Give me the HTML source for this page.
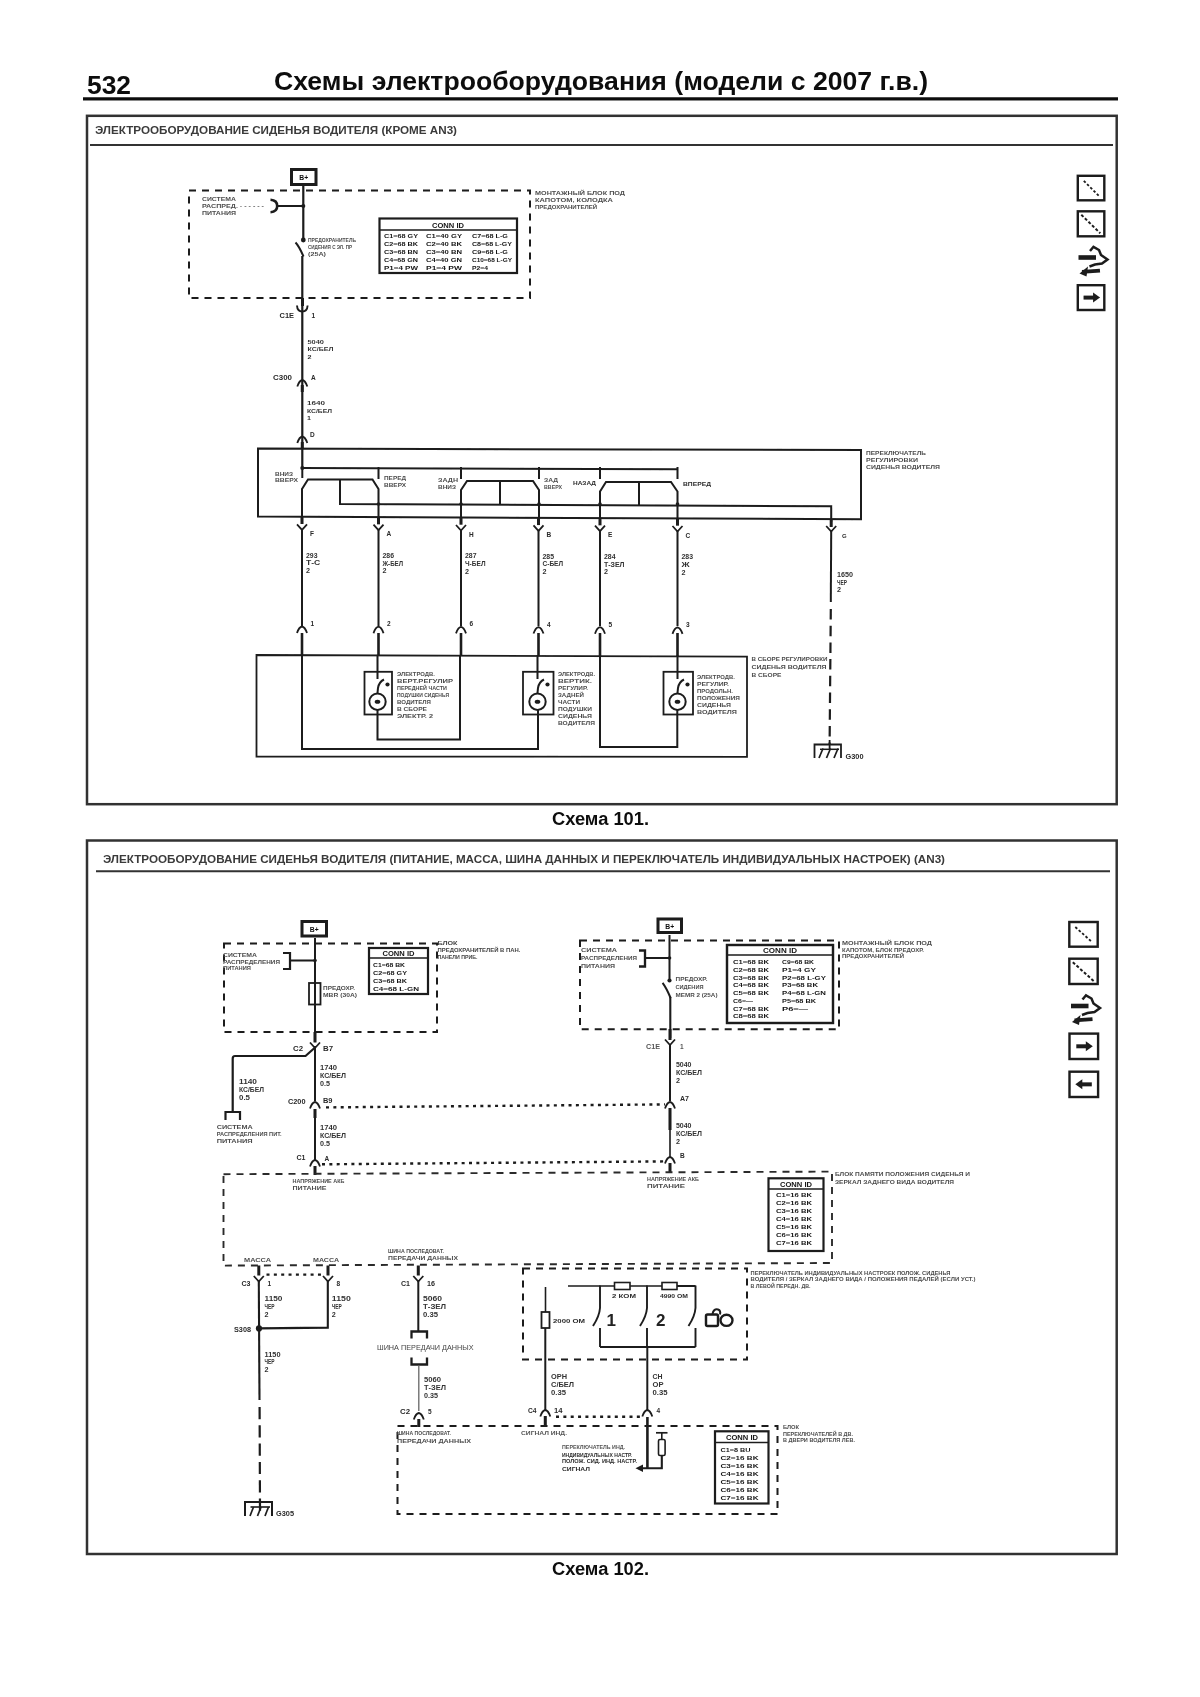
<!DOCTYPE html>
<html lang="ru"><head><meta charset="utf-8"><title>532</title>
<style>html,body{margin:0;padding:0;background:#fff}body{width:1200px;height:1697px;overflow:hidden;font-family:"Liberation Sans",sans-serif}svg{display:block;font-family:"Liberation Sans",sans-serif}</style>
</head><body>
<svg width="1200" height="1697" viewBox="0 0 1200 1697" stroke="#1c1c1c" stroke-linecap="butt" stroke-linejoin="miter">
<defs><filter id="soft" x="-2%" y="-2%" width="104%" height="104%"><feGaussianBlur stdDeviation="0.7"/></filter></defs>
<rect x="0" y="0" width="1200" height="1697" fill="#ffffff" stroke="none"/>
<g filter="url(#soft)">
<text x="87" y="93.5" font-size="25.8" font-weight="bold" text-anchor="start" fill="#111" stroke="none" textLength="44" lengthAdjust="spacingAndGlyphs" >532</text>
<text x="274" y="89.8" font-size="25" font-weight="bold" text-anchor="start" fill="#111" stroke="none" textLength="654" lengthAdjust="spacingAndGlyphs" >Схемы электрооборудования (модели с 2007 г.в.)</text>
<line x1="83" y1="98.8" x2="1118" y2="98.8" stroke-width="3.2" stroke="#111"/>
<rect x="87" y="115.8" width="1029.7" height="688.4000000000001" stroke-width="2.5" fill="none" stroke="#333"/>
<line x1="90" y1="145" x2="1113" y2="145" stroke-width="2" stroke="#333"/>
<text x="95" y="134.2" font-size="11" font-weight="bold" text-anchor="start" fill="#3a3a3a" stroke="none" textLength="362" lengthAdjust="spacingAndGlyphs" >ЭЛЕКТРООБОРУДОВАНИЕ СИДЕНЬЯ ВОДИТЕЛЯ (КРОМЕ AN3)</text>
<rect x="291.5" y="169.5" width="24.5" height="15.0" stroke-width="3" fill="none" />
<text x="303.8" y="180.2" font-size="6.8" font-weight="bold" text-anchor="middle" fill="#111" stroke="none" stroke="#111" stroke-width="0.3">B+</text>
<rect x="189" y="190.5" width="341" height="107.5" stroke-width="2" fill="none" stroke-dasharray="7 6"/>
<line x1="303.3" y1="186" x2="303.3" y2="240" stroke-width="2.2" />
<circle cx="303.3" cy="206" r="2" fill="#1c1c1c" stroke="none"/>
<circle cx="303.3" cy="240" r="2.4" fill="#1c1c1c" stroke="none"/>
<line x1="277" y1="206" x2="303" y2="206" stroke-width="2" />
<path d="M270.5,199.8 Q277.2,200.2 277.2,206 Q277.2,211.8 270.5,212.2" stroke-width="2.6" fill="none" />
<text x="202" y="201" font-size="6" font-weight="bold" text-anchor="start" fill="#4c4c4c" stroke="none" textLength="34" lengthAdjust="spacingAndGlyphs" >СИСТЕМА</text>
<text x="202" y="208" font-size="6" font-weight="bold" text-anchor="start" fill="#4c4c4c" stroke="none" textLength="62" lengthAdjust="spacingAndGlyphs" >РАСПРЕД. - - - - - -</text>
<text x="202" y="215" font-size="6" font-weight="bold" text-anchor="start" fill="#4c4c4c" stroke="none" textLength="34" lengthAdjust="spacingAndGlyphs" >ПИТАНИЯ</text>
<path d="M295.5,242.5 Q299,246 303.5,256.5" stroke-width="2" fill="none" />
<line x1="302.3" y1="256" x2="302.3" y2="468" stroke-width="2.2" />
<text x="308" y="242" font-size="6" font-weight="bold" text-anchor="start" fill="#4c4c4c" stroke="none" textLength="48" lengthAdjust="spacingAndGlyphs" >ПРЕДОХРАНИТЕЛЬ</text>
<text x="308" y="249" font-size="6" font-weight="bold" text-anchor="start" fill="#4c4c4c" stroke="none" textLength="44" lengthAdjust="spacingAndGlyphs" >СИДЕНИЯ С ЭЛ. ПР</text>
<text x="308" y="256" font-size="6" font-weight="bold" text-anchor="start" fill="#4c4c4c" stroke="none" textLength="18" lengthAdjust="spacingAndGlyphs" >(25A)</text>
<rect x="379.5" y="218.5" width="137.5" height="54.5" stroke-width="2.2" fill="none" />
<line x1="380" y1="230" x2="517" y2="230" stroke-width="1.6" />
<text x="448" y="228" font-size="6.5" font-weight="bold" text-anchor="middle" fill="#151515" stroke="none" textLength="32" lengthAdjust="spacingAndGlyphs" stroke="#151515" stroke-width="0.35">CONN ID</text>
<text x="384" y="238" font-size="6" font-weight="bold" text-anchor="start" fill="#151515" stroke="none" textLength="34" lengthAdjust="spacingAndGlyphs" stroke="#151515" stroke-width="0.35">C1=68 GY</text>
<text x="426" y="238" font-size="6" font-weight="bold" text-anchor="start" fill="#151515" stroke="none" textLength="36" lengthAdjust="spacingAndGlyphs" stroke="#151515" stroke-width="0.35">C1=40 GY</text>
<text x="472" y="238" font-size="6" font-weight="bold" text-anchor="start" fill="#151515" stroke="none" textLength="36" lengthAdjust="spacingAndGlyphs" stroke="#151515" stroke-width="0.35">C7=68 L-G</text>
<text x="384" y="246" font-size="6" font-weight="bold" text-anchor="start" fill="#151515" stroke="none" textLength="34" lengthAdjust="spacingAndGlyphs" stroke="#151515" stroke-width="0.35">C2=68 BK</text>
<text x="426" y="246" font-size="6" font-weight="bold" text-anchor="start" fill="#151515" stroke="none" textLength="36" lengthAdjust="spacingAndGlyphs" stroke="#151515" stroke-width="0.35">C2=40 BK</text>
<text x="472" y="246" font-size="6" font-weight="bold" text-anchor="start" fill="#151515" stroke="none" textLength="40" lengthAdjust="spacingAndGlyphs" stroke="#151515" stroke-width="0.35">C8=68 L-GY</text>
<text x="384" y="254" font-size="6" font-weight="bold" text-anchor="start" fill="#151515" stroke="none" textLength="34" lengthAdjust="spacingAndGlyphs" stroke="#151515" stroke-width="0.35">C3=68 BN</text>
<text x="426" y="254" font-size="6" font-weight="bold" text-anchor="start" fill="#151515" stroke="none" textLength="36" lengthAdjust="spacingAndGlyphs" stroke="#151515" stroke-width="0.35">C3=40 BN</text>
<text x="472" y="254" font-size="6" font-weight="bold" text-anchor="start" fill="#151515" stroke="none" textLength="36" lengthAdjust="spacingAndGlyphs" stroke="#151515" stroke-width="0.35">C9=68 L-G</text>
<text x="384" y="262" font-size="6" font-weight="bold" text-anchor="start" fill="#151515" stroke="none" textLength="34" lengthAdjust="spacingAndGlyphs" stroke="#151515" stroke-width="0.35">C4=68 GN</text>
<text x="426" y="262" font-size="6" font-weight="bold" text-anchor="start" fill="#151515" stroke="none" textLength="36" lengthAdjust="spacingAndGlyphs" stroke="#151515" stroke-width="0.35">C4=40 GN</text>
<text x="472" y="262" font-size="6" font-weight="bold" text-anchor="start" fill="#151515" stroke="none" textLength="40" lengthAdjust="spacingAndGlyphs" stroke="#151515" stroke-width="0.35">C10=68 L-GY</text>
<text x="384" y="270" font-size="6" font-weight="bold" text-anchor="start" fill="#151515" stroke="none" textLength="34" lengthAdjust="spacingAndGlyphs" stroke="#151515" stroke-width="0.35">P1=4 PW</text>
<text x="426" y="270" font-size="6" font-weight="bold" text-anchor="start" fill="#151515" stroke="none" textLength="36" lengthAdjust="spacingAndGlyphs" stroke="#151515" stroke-width="0.35">P1=4 PW</text>
<text x="472" y="270" font-size="6" font-weight="bold" text-anchor="start" fill="#151515" stroke="none" textLength="16" lengthAdjust="spacingAndGlyphs" stroke="#151515" stroke-width="0.35">P2=4</text>
<text x="535" y="195" font-size="6" font-weight="bold" text-anchor="start" fill="#4c4c4c" stroke="none" textLength="90" lengthAdjust="spacingAndGlyphs" >МОНТАЖНЫЙ БЛОК ПОД</text>
<text x="535" y="202" font-size="6" font-weight="bold" text-anchor="start" fill="#4c4c4c" stroke="none" textLength="78" lengthAdjust="spacingAndGlyphs" >КАПОТОМ, КОЛОДКА</text>
<text x="535" y="209" font-size="6" font-weight="bold" text-anchor="start" fill="#4c4c4c" stroke="none" textLength="62" lengthAdjust="spacingAndGlyphs" >ПРЕДОХРАНИТЕЛЕЙ</text>
<line x1="302.5" y1="298" x2="302.5" y2="306" stroke-width="3" />
<path d="M297,305.5 Q297.3,311.5 302.3,311.5 Q307.3,311.5 307.6,305.5" stroke-width="1.9" fill="none" />
<text x="279.5" y="317.5" font-size="6.5" font-weight="bold" text-anchor="start" fill="#2a2a2a" stroke="none" textLength="14.5" lengthAdjust="spacingAndGlyphs" >C1E</text>
<text x="311.5" y="317.5" font-size="6.5" font-weight="bold" text-anchor="start" fill="#2a2a2a" stroke="none" >1</text>
<text x="307.5" y="343.5" font-size="6" font-weight="bold" text-anchor="start" fill="#333" stroke="none" textLength="16.5" lengthAdjust="spacingAndGlyphs" >5040</text>
<text x="307.5" y="351.2" font-size="6" font-weight="bold" text-anchor="start" fill="#333" stroke="none" textLength="26" lengthAdjust="spacingAndGlyphs" >КС/БЕЛ</text>
<text x="307.5" y="358.9" font-size="6" font-weight="bold" text-anchor="start" fill="#333" stroke="none" textLength="4" lengthAdjust="spacingAndGlyphs" >2</text>
<path d="M297.3,386.5 Q299.3,380.5 302.3,380 Q305.3,380.5 307.3,386.5" stroke-width="1.8" fill="none" />
<line x1="302.3" y1="385" x2="302.3" y2="392" stroke-width="3" />
<text x="273" y="379.5" font-size="6.5" font-weight="bold" text-anchor="start" fill="#2a2a2a" stroke="none" textLength="19" lengthAdjust="spacingAndGlyphs" >C300</text>
<text x="311" y="379.5" font-size="6.5" font-weight="bold" text-anchor="start" fill="#2a2a2a" stroke="none" >A</text>
<text x="307" y="405.0" font-size="6" font-weight="bold" text-anchor="start" fill="#333" stroke="none" textLength="18" lengthAdjust="spacingAndGlyphs" >1640</text>
<text x="307" y="412.7" font-size="6" font-weight="bold" text-anchor="start" fill="#333" stroke="none" textLength="25" lengthAdjust="spacingAndGlyphs" >КС/БЕЛ</text>
<text x="307" y="420.4" font-size="6" font-weight="bold" text-anchor="start" fill="#333" stroke="none" textLength="4" lengthAdjust="spacingAndGlyphs" >1</text>
<text x="310" y="437" font-size="6.5" font-weight="bold" text-anchor="start" fill="#2a2a2a" stroke="none" >D</text>
<path d="M297.3,443.0 Q299.3,437.0 302.3,436.5 Q305.3,437.0 307.3,443.0" stroke-width="1.8" fill="none" />
<line x1="302.3" y1="442" x2="302.3" y2="449" stroke-width="3" />
<polygon points="258,448.6 861,450 861,519.2 258,516.6" fill="none" stroke-width="2"/>
<line x1="302" y1="468" x2="678" y2="469.3" stroke-width="2" />
<circle cx="302.3" cy="468" r="2" fill="#1c1c1c" stroke="none"/>
<line x1="302.3" y1="467" x2="302.3" y2="478" stroke-width="2" />
<line x1="378.5" y1="467" x2="378.5" y2="479" stroke-width="2" />
<line x1="461" y1="467" x2="461" y2="479" stroke-width="2" />
<line x1="539" y1="467" x2="539" y2="479" stroke-width="2" />
<line x1="600" y1="467" x2="600" y2="479" stroke-width="2" />
<line x1="677.5" y1="467" x2="677.5" y2="479" stroke-width="2" />
<polyline points="302,517 302,489 308,479.5 372.5,479.5 378.5,489 378.5,517" stroke-width="2" fill="none" />
<polyline points="340,479.5 340,504 831.2,506.3 831.2,522" stroke-width="2" fill="none" />
<polyline points="461,517 461,490 467,481 533,481 539,490 539,517" stroke-width="2" fill="none" />
<line x1="500" y1="481" x2="500" y2="504" stroke-width="2" />
<polyline points="600,518 600,491.5 606,482 671,482 677.5,491.5 677.5,518.5" stroke-width="2" fill="none" />
<line x1="639" y1="482" x2="639" y2="505.5" stroke-width="2" />
<circle cx="378.5" cy="504" r="1.8" fill="#1c1c1c" stroke="none"/>
<circle cx="461" cy="504" r="1.8" fill="#1c1c1c" stroke="none"/>
<circle cx="539" cy="504" r="1.8" fill="#1c1c1c" stroke="none"/>
<circle cx="600" cy="504" r="1.8" fill="#1c1c1c" stroke="none"/>
<circle cx="677.5" cy="504" r="1.8" fill="#1c1c1c" stroke="none"/>
<text x="275" y="475.5" font-size="6" font-weight="bold" text-anchor="start" fill="#4c4c4c" stroke="none" textLength="18" lengthAdjust="spacingAndGlyphs" >ВНИЗ</text>
<text x="275" y="481.7" font-size="6" font-weight="bold" text-anchor="start" fill="#4c4c4c" stroke="none" textLength="23" lengthAdjust="spacingAndGlyphs" >ВВЕРХ</text>
<text x="384" y="480.0" font-size="6" font-weight="bold" text-anchor="start" fill="#4c4c4c" stroke="none" textLength="22" lengthAdjust="spacingAndGlyphs" >ПЕРЕД</text>
<text x="384" y="486.5" font-size="6" font-weight="bold" text-anchor="start" fill="#4c4c4c" stroke="none" textLength="22" lengthAdjust="spacingAndGlyphs" >ВВЕРХ</text>
<text x="438" y="482.0" font-size="6" font-weight="bold" text-anchor="start" fill="#4c4c4c" stroke="none" textLength="20" lengthAdjust="spacingAndGlyphs" >ЗАДН</text>
<text x="438" y="488.5" font-size="6" font-weight="bold" text-anchor="start" fill="#4c4c4c" stroke="none" textLength="18" lengthAdjust="spacingAndGlyphs" >ВНИЗ</text>
<text x="544" y="482.0" font-size="6" font-weight="bold" text-anchor="start" fill="#4c4c4c" stroke="none" textLength="14" lengthAdjust="spacingAndGlyphs" >ЗАД</text>
<text x="544" y="488.5" font-size="6" font-weight="bold" text-anchor="start" fill="#4c4c4c" stroke="none" textLength="18" lengthAdjust="spacingAndGlyphs" >ВВЕРХ</text>
<text x="573" y="485" font-size="6" font-weight="bold" text-anchor="start" fill="#2a2a2a" stroke="none" textLength="23" lengthAdjust="spacingAndGlyphs" >НАЗАД</text>
<text x="683" y="486" font-size="6" font-weight="bold" text-anchor="start" fill="#2a2a2a" stroke="none" textLength="28" lengthAdjust="spacingAndGlyphs" >ВПЕРЕД</text>
<text x="866" y="455" font-size="6" font-weight="bold" text-anchor="start" fill="#4c4c4c" stroke="none" textLength="60" lengthAdjust="spacingAndGlyphs" >ПЕРЕКЛЮЧАТЕЛЬ</text>
<text x="866" y="462" font-size="6" font-weight="bold" text-anchor="start" fill="#4c4c4c" stroke="none" textLength="52" lengthAdjust="spacingAndGlyphs" >РЕГУЛИРОВКИ</text>
<text x="866" y="469" font-size="6" font-weight="bold" text-anchor="start" fill="#4c4c4c" stroke="none" textLength="74" lengthAdjust="spacingAndGlyphs" >СИДЕНЬЯ ВОДИТЕЛЯ</text>
<line x1="302" y1="517.0" x2="302" y2="524.0" stroke-width="3" />
<polyline points="297,524.3 302,529.8 307,524.3" stroke-width="1.8" fill="none" />
<line x1="302" y1="529.0" x2="302" y2="626" stroke-width="2" />
<text x="310" y="536.0" font-size="6.5" font-weight="bold" text-anchor="start" fill="#2a2a2a" stroke="none" >F</text>
<text x="306" y="557.5" font-size="6.3" font-weight="bold" text-anchor="start" fill="#333" stroke="none" textLength="11.5" lengthAdjust="spacingAndGlyphs" >293</text>
<text x="306" y="565.2" font-size="6.3" font-weight="bold" text-anchor="start" fill="#333" stroke="none" textLength="14.3" lengthAdjust="spacingAndGlyphs" >Т-С</text>
<text x="306" y="572.9" font-size="6.3" font-weight="bold" text-anchor="start" fill="#333" stroke="none" textLength="4" lengthAdjust="spacingAndGlyphs" >2</text>
<path d="M297,633.0 Q299,627.0 302,626.5 Q305,627.0 307,633.0" stroke-width="1.8" fill="none" />
<line x1="302" y1="633" x2="302" y2="656" stroke-width="2.6" />
<text x="310.5" y="626.0" font-size="6.5" font-weight="bold" text-anchor="start" fill="#2a2a2a" stroke="none" >1</text>
<line x1="378.5" y1="517.34425" x2="378.5" y2="524.34425" stroke-width="3" />
<polyline points="373.5,524.6442499999999 378.5,530.1442499999999 383.5,524.6442499999999" stroke-width="1.8" fill="none" />
<line x1="378.5" y1="529.34425" x2="378.5" y2="626" stroke-width="2" />
<text x="386.5" y="536.34425" font-size="6.5" font-weight="bold" text-anchor="start" fill="#2a2a2a" stroke="none" >A</text>
<text x="382.5" y="557.84425" font-size="6.3" font-weight="bold" text-anchor="start" fill="#333" stroke="none" textLength="11.5" lengthAdjust="spacingAndGlyphs" >286</text>
<text x="382.5" y="565.54425" font-size="6.3" font-weight="bold" text-anchor="start" fill="#333" stroke="none" textLength="20.5" lengthAdjust="spacingAndGlyphs" >Ж-БЕЛ</text>
<text x="382.5" y="573.24425" font-size="6.3" font-weight="bold" text-anchor="start" fill="#333" stroke="none" textLength="4" lengthAdjust="spacingAndGlyphs" >2</text>
<path d="M373.5,633.172125 Q375.5,627.172125 378.5,626.672125 Q381.5,627.172125 383.5,633.172125" stroke-width="1.8" fill="none" />
<line x1="378.5" y1="633" x2="378.5" y2="656" stroke-width="2.6" />
<text x="387.0" y="626.172125" font-size="6.5" font-weight="bold" text-anchor="start" fill="#2a2a2a" stroke="none" >2</text>
<line x1="461" y1="517.7155" x2="461" y2="524.7155" stroke-width="3" />
<polyline points="456,525.0155 461,530.5155 466,525.0155" stroke-width="1.8" fill="none" />
<line x1="461" y1="529.7155" x2="461" y2="626" stroke-width="2" />
<text x="469" y="536.7155" font-size="6.5" font-weight="bold" text-anchor="start" fill="#2a2a2a" stroke="none" >H</text>
<text x="465" y="558.2155" font-size="6.3" font-weight="bold" text-anchor="start" fill="#333" stroke="none" textLength="11.5" lengthAdjust="spacingAndGlyphs" >287</text>
<text x="465" y="565.9155000000001" font-size="6.3" font-weight="bold" text-anchor="start" fill="#333" stroke="none" textLength="20.5" lengthAdjust="spacingAndGlyphs" >Ч-БЕЛ</text>
<text x="465" y="573.6155" font-size="6.3" font-weight="bold" text-anchor="start" fill="#333" stroke="none" textLength="4" lengthAdjust="spacingAndGlyphs" >2</text>
<path d="M456,633.35775 Q458,627.35775 461,626.85775 Q464,627.35775 466,633.35775" stroke-width="1.8" fill="none" />
<line x1="461" y1="633" x2="461" y2="656" stroke-width="2.6" />
<text x="469.5" y="626.35775" font-size="6.5" font-weight="bold" text-anchor="start" fill="#2a2a2a" stroke="none" >6</text>
<line x1="538.5" y1="518.06425" x2="538.5" y2="525.06425" stroke-width="3" />
<polyline points="533.5,525.36425 538.5,530.86425 543.5,525.36425" stroke-width="1.8" fill="none" />
<line x1="538.5" y1="530.06425" x2="538.5" y2="626" stroke-width="2" />
<text x="546.5" y="537.06425" font-size="6.5" font-weight="bold" text-anchor="start" fill="#2a2a2a" stroke="none" >B</text>
<text x="542.5" y="558.56425" font-size="6.3" font-weight="bold" text-anchor="start" fill="#333" stroke="none" textLength="11.5" lengthAdjust="spacingAndGlyphs" >285</text>
<text x="542.5" y="566.2642500000001" font-size="6.3" font-weight="bold" text-anchor="start" fill="#333" stroke="none" textLength="20.5" lengthAdjust="spacingAndGlyphs" >С-БЕЛ</text>
<text x="542.5" y="573.96425" font-size="6.3" font-weight="bold" text-anchor="start" fill="#333" stroke="none" textLength="4" lengthAdjust="spacingAndGlyphs" >2</text>
<path d="M533.5,633.532125 Q535.5,627.532125 538.5,627.032125 Q541.5,627.532125 543.5,633.532125" stroke-width="1.8" fill="none" />
<line x1="538.5" y1="633" x2="538.5" y2="656" stroke-width="2.6" />
<text x="547.0" y="626.532125" font-size="6.5" font-weight="bold" text-anchor="start" fill="#2a2a2a" stroke="none" >4</text>
<line x1="600" y1="518.341" x2="600" y2="525.341" stroke-width="3" />
<polyline points="595,525.641 600,531.141 605,525.641" stroke-width="1.8" fill="none" />
<line x1="600" y1="530.341" x2="600" y2="626" stroke-width="2" />
<text x="608" y="537.341" font-size="6.5" font-weight="bold" text-anchor="start" fill="#2a2a2a" stroke="none" >E</text>
<text x="604" y="558.841" font-size="6.3" font-weight="bold" text-anchor="start" fill="#333" stroke="none" textLength="11.5" lengthAdjust="spacingAndGlyphs" >284</text>
<text x="604" y="566.541" font-size="6.3" font-weight="bold" text-anchor="start" fill="#333" stroke="none" textLength="20.5" lengthAdjust="spacingAndGlyphs" >Т-ЗЕЛ</text>
<text x="604" y="574.241" font-size="6.3" font-weight="bold" text-anchor="start" fill="#333" stroke="none" textLength="4" lengthAdjust="spacingAndGlyphs" >2</text>
<path d="M595,633.6705 Q597,627.6705 600,627.1705 Q603,627.6705 605,633.6705" stroke-width="1.8" fill="none" />
<line x1="600" y1="633" x2="600" y2="656" stroke-width="2.6" />
<text x="608.5" y="626.6705" font-size="6.5" font-weight="bold" text-anchor="start" fill="#2a2a2a" stroke="none" >5</text>
<line x1="677.5" y1="518.68975" x2="677.5" y2="525.68975" stroke-width="3" />
<polyline points="672.5,525.98975 677.5,531.48975 682.5,525.98975" stroke-width="1.8" fill="none" />
<line x1="677.5" y1="530.68975" x2="677.5" y2="626" stroke-width="2" />
<text x="685.5" y="537.68975" font-size="6.5" font-weight="bold" text-anchor="start" fill="#2a2a2a" stroke="none" >C</text>
<text x="681.5" y="559.18975" font-size="6.3" font-weight="bold" text-anchor="start" fill="#333" stroke="none" textLength="11.5" lengthAdjust="spacingAndGlyphs" >283</text>
<text x="681.5" y="566.88975" font-size="6.3" font-weight="bold" text-anchor="start" fill="#333" stroke="none" textLength="8.1" lengthAdjust="spacingAndGlyphs" >Ж</text>
<text x="681.5" y="574.58975" font-size="6.3" font-weight="bold" text-anchor="start" fill="#333" stroke="none" textLength="4" lengthAdjust="spacingAndGlyphs" >2</text>
<path d="M672.5,633.844875 Q674.5,627.844875 677.5,627.344875 Q680.5,627.844875 682.5,633.844875" stroke-width="1.8" fill="none" />
<line x1="677.5" y1="633" x2="677.5" y2="656" stroke-width="2.6" />
<text x="686.0" y="626.844875" font-size="6.5" font-weight="bold" text-anchor="start" fill="#2a2a2a" stroke="none" >3</text>
<line x1="831.2" y1="520" x2="831.2" y2="527" stroke-width="3" />
<polyline points="826.2,526 831.2,531.5 836.2,526" stroke-width="1.8" fill="none" />
<line x1="831.2" y1="531" x2="830.8" y2="602" stroke-width="2" />
<line x1="830.8" y1="609" x2="829.6" y2="744" stroke-width="2.2" stroke-dasharray="10.5 6.2"/>
<text x="842" y="538" font-size="6" font-weight="bold" text-anchor="start" fill="#2a2a2a" stroke="none" >G</text>
<text x="837" y="577.0" font-size="6.3" font-weight="bold" text-anchor="start" fill="#333" stroke="none" textLength="16" lengthAdjust="spacingAndGlyphs" >1650</text>
<text x="837" y="584.7" font-size="6.3" font-weight="bold" text-anchor="start" fill="#333" stroke="none" textLength="10" lengthAdjust="spacingAndGlyphs" >ЧЕР</text>
<text x="837" y="592.4" font-size="6.3" font-weight="bold" text-anchor="start" fill="#333" stroke="none" textLength="4" lengthAdjust="spacingAndGlyphs" >2</text>
<polyline points="814.5,758 814.5,744.5 841,744.5 841,758" stroke-width="1.8" fill="none" />
<line x1="829.6" y1="740" x2="829.6" y2="750" stroke-width="1.8" />
<line x1="820" y1="749.3" x2="839" y2="749.3" stroke-width="1.5" />
<line x1="823" y1="748.5" x2="819" y2="758" stroke-width="1.7" />
<line x1="830.5" y1="748.5" x2="826.5" y2="758" stroke-width="1.7" />
<line x1="838" y1="748.5" x2="834" y2="758" stroke-width="1.7" />
<text x="845.5" y="758.5" font-size="6.5" font-weight="bold" text-anchor="start" fill="#2a2a2a" stroke="none" textLength="18" lengthAdjust="spacingAndGlyphs" >G300</text>
<polygon points="256.5,655 747,656.6 747,756.8 256.5,756.5" fill="none" stroke-width="1.8"/>
<text x="751.5" y="661" font-size="6" font-weight="bold" text-anchor="start" fill="#4c4c4c" stroke="none" textLength="76" lengthAdjust="spacingAndGlyphs" >В СБОРЕ РЕГУЛИРОВКИ</text>
<text x="751.5" y="669" font-size="6" font-weight="bold" text-anchor="start" fill="#4c4c4c" stroke="none" textLength="75" lengthAdjust="spacingAndGlyphs" >СИДЕНЬЯ ВОДИТЕЛЯ</text>
<text x="751.5" y="677" font-size="6" font-weight="bold" text-anchor="start" fill="#4c4c4c" stroke="none" textLength="30" lengthAdjust="spacingAndGlyphs" >В СБОРЕ</text>
<rect x="364.5" y="671.8" width="27.5" height="42.700000000000045" stroke-width="1.8" fill="none" />
<line x1="377.5" y1="655" x2="377.5" y2="679" stroke-width="2" />
<path d="M377.5,693 L378.0,688 Q379.0,682 384.0,679.5" stroke-width="2" fill="none" />
<circle cx="387.5" cy="684.5" r="2.1" fill="#1c1c1c" stroke="none"/>
<circle cx="377.5" cy="701.7" r="8.2" fill="none" stroke-width="2"/>
<ellipse cx="377.5" cy="701.7" rx="2.8" ry="2" fill="#1c1c1c" stroke="none"/>
<rect x="523" y="671.8" width="30.5" height="42.700000000000045" stroke-width="1.8" fill="none" />
<line x1="537.5" y1="655" x2="537.5" y2="679" stroke-width="2" />
<path d="M537.5,693 L538.0,688 Q539.0,682 544.0,679.5" stroke-width="2" fill="none" />
<circle cx="547.5" cy="684.5" r="2.1" fill="#1c1c1c" stroke="none"/>
<circle cx="537.5" cy="701.7" r="8.2" fill="none" stroke-width="2"/>
<ellipse cx="537.5" cy="701.7" rx="2.8" ry="2" fill="#1c1c1c" stroke="none"/>
<rect x="663.5" y="671.8" width="29.5" height="42.700000000000045" stroke-width="1.8" fill="none" />
<line x1="677.5" y1="655" x2="677.5" y2="679" stroke-width="2" />
<path d="M677.5,693 L678.0,688 Q679.0,682 684.0,679.5" stroke-width="2" fill="none" />
<circle cx="687.5" cy="684.5" r="2.1" fill="#1c1c1c" stroke="none"/>
<circle cx="677.5" cy="701.7" r="8.2" fill="none" stroke-width="2"/>
<ellipse cx="677.5" cy="701.7" rx="2.8" ry="2" fill="#1c1c1c" stroke="none"/>
<polyline points="377.5,710 377.5,739.5 460,739.5 460,655" stroke-width="2" fill="none" />
<polyline points="302,655 302,749 538,749 538,710" stroke-width="2" fill="none" />
<polyline points="600,655 600,747 677.3,747 677.3,710" stroke-width="2" fill="none" />
<text x="397" y="676" font-size="6" font-weight="bold" text-anchor="start" fill="#4c4c4c" stroke="none" textLength="38" lengthAdjust="spacingAndGlyphs" >ЭЛЕКТРОДВ.</text>
<text x="397" y="683" font-size="6" font-weight="bold" text-anchor="start" fill="#4c4c4c" stroke="none" textLength="56" lengthAdjust="spacingAndGlyphs" >ВЕРТ.РЕГУЛИР</text>
<text x="397" y="690" font-size="6" font-weight="bold" text-anchor="start" fill="#4c4c4c" stroke="none" textLength="50" lengthAdjust="spacingAndGlyphs" >ПЕРЕДНЕЙ ЧАСТИ</text>
<text x="397" y="697" font-size="6" font-weight="bold" text-anchor="start" fill="#4c4c4c" stroke="none" textLength="52" lengthAdjust="spacingAndGlyphs" >ПОДУШКИ СИДЕНЬЯ</text>
<text x="397" y="704" font-size="6" font-weight="bold" text-anchor="start" fill="#4c4c4c" stroke="none" textLength="34" lengthAdjust="spacingAndGlyphs" >ВОДИТЕЛЯ</text>
<text x="397" y="711" font-size="6" font-weight="bold" text-anchor="start" fill="#4c4c4c" stroke="none" textLength="30" lengthAdjust="spacingAndGlyphs" >В СБОРЕ</text>
<text x="397" y="718" font-size="6" font-weight="bold" text-anchor="start" fill="#4c4c4c" stroke="none" textLength="36" lengthAdjust="spacingAndGlyphs" >ЭЛЕКТР. 2</text>
<text x="558" y="676" font-size="6" font-weight="bold" text-anchor="start" fill="#4c4c4c" stroke="none" textLength="37" lengthAdjust="spacingAndGlyphs" >ЭЛЕКТРОДВ.</text>
<text x="558" y="683" font-size="6" font-weight="bold" text-anchor="start" fill="#4c4c4c" stroke="none" textLength="34" lengthAdjust="spacingAndGlyphs" >ВЕРТИК.</text>
<text x="558" y="690" font-size="6" font-weight="bold" text-anchor="start" fill="#4c4c4c" stroke="none" textLength="30" lengthAdjust="spacingAndGlyphs" >РЕГУЛИР.</text>
<text x="558" y="697" font-size="6" font-weight="bold" text-anchor="start" fill="#4c4c4c" stroke="none" textLength="26" lengthAdjust="spacingAndGlyphs" >ЗАДНЕЙ</text>
<text x="558" y="704" font-size="6" font-weight="bold" text-anchor="start" fill="#4c4c4c" stroke="none" textLength="22" lengthAdjust="spacingAndGlyphs" >ЧАСТИ</text>
<text x="558" y="711" font-size="6" font-weight="bold" text-anchor="start" fill="#4c4c4c" stroke="none" textLength="34" lengthAdjust="spacingAndGlyphs" >ПОДУШКИ</text>
<text x="558" y="718" font-size="6" font-weight="bold" text-anchor="start" fill="#4c4c4c" stroke="none" textLength="34" lengthAdjust="spacingAndGlyphs" >СИДЕНЬЯ</text>
<text x="558" y="725" font-size="6" font-weight="bold" text-anchor="start" fill="#4c4c4c" stroke="none" textLength="37" lengthAdjust="spacingAndGlyphs" >ВОДИТЕЛЯ</text>
<text x="697" y="679.0" font-size="6" font-weight="bold" text-anchor="start" fill="#4c4c4c" stroke="none" textLength="38" lengthAdjust="spacingAndGlyphs" >ЭЛЕКТРОДВ.</text>
<text x="697" y="685.9" font-size="6" font-weight="bold" text-anchor="start" fill="#4c4c4c" stroke="none" textLength="32" lengthAdjust="spacingAndGlyphs" >РЕГУЛИР.</text>
<text x="697" y="692.8" font-size="6" font-weight="bold" text-anchor="start" fill="#4c4c4c" stroke="none" textLength="36" lengthAdjust="spacingAndGlyphs" >ПРОДОЛЬН.</text>
<text x="697" y="699.7" font-size="6" font-weight="bold" text-anchor="start" fill="#4c4c4c" stroke="none" textLength="43" lengthAdjust="spacingAndGlyphs" >ПОЛОЖЕНИЯ</text>
<text x="697" y="706.6" font-size="6" font-weight="bold" text-anchor="start" fill="#4c4c4c" stroke="none" textLength="34" lengthAdjust="spacingAndGlyphs" >СИДЕНЬЯ</text>
<text x="697" y="713.5" font-size="6" font-weight="bold" text-anchor="start" fill="#4c4c4c" stroke="none" textLength="40" lengthAdjust="spacingAndGlyphs" >ВОДИТЕЛЯ</text>
<rect x="1077.8" y="175.8" width="26.5" height="24.5" stroke-width="2.4" fill="none" />
<line x1="1083.8" y1="180.8" x2="1098.8" y2="195.8" stroke-width="1.8" stroke-dasharray="2.6 2"/>
<rect x="1077.8" y="211.3" width="26.5" height="25.0" stroke-width="2.4" fill="none" />
<line x1="1081.3" y1="214.8" x2="1100.3" y2="233.3" stroke-width="2" stroke-dasharray="3 2"/>
<path d="M1090,251 L1093.5,246.8 L1099,250 L1101,255 L1107.5,259.5 L1102,263.5 L1095,264.5 L1089.5,266.5" stroke-width="2.5" fill="none" />
<line x1="1078.5" y1="257.5" x2="1096" y2="257.5" stroke-width="4.6" />
<line x1="1082" y1="271.8" x2="1100" y2="270.6" stroke-width="3.8" />
<path d="M1079.5,273.5 L1088,266.5 L1086.5,276.5 Z" fill="#1c1c1c" stroke="none"/>
<rect x="1077.8" y="285.2" width="26.5" height="24.80000000000001" stroke-width="2.4" fill="none" />
<line x1="1083.55" y1="297.59999999999997" x2="1095.05" y2="297.59999999999997" stroke-width="4" />
<path d="M1093.05,292.59999999999997 L1100.05,297.59999999999997 L1093.05,302.59999999999997 Z" fill="#1c1c1c" stroke="none"/>
<text x="552" y="824.8" font-size="18" font-weight="bold" text-anchor="start" fill="#111" stroke="none" textLength="97" lengthAdjust="spacingAndGlyphs" stroke="#111" stroke-width="0.3">Схема 101.</text>
<rect x="87" y="840.5" width="1029.7" height="713.5" stroke-width="2.5" fill="none" stroke="#333"/>
<line x1="96" y1="871.2" x2="1110" y2="871.2" stroke-width="2" stroke="#333"/>
<text x="103" y="863" font-size="11" font-weight="bold" text-anchor="start" fill="#3a3a3a" stroke="none" textLength="842" lengthAdjust="spacingAndGlyphs" >ЭЛЕКТРООБОРУДОВАНИЕ СИДЕНЬЯ ВОДИТЕЛЯ (ПИТАНИЕ, МАССА, ШИНА ДАННЫХ И ПЕРЕКЛЮЧАТЕЛЬ ИНДИВИДУАЛЬНЫХ НАСТРОЕК) (AN3)</text>
<rect x="302" y="921.5" width="24.5" height="14.5" stroke-width="3" fill="none" />
<text x="314.3" y="932" font-size="6.8" font-weight="bold" text-anchor="middle" fill="#111" stroke="none" stroke="#111" stroke-width="0.3">B+</text>
<rect x="224" y="943.5" width="213" height="88.5" stroke-width="2" fill="none" stroke-dasharray="7 6"/>
<line x1="315" y1="938" x2="315" y2="983" stroke-width="2" />
<circle cx="315" cy="960.5" r="1.8" fill="#1c1c1c" stroke="none"/>
<line x1="290" y1="960.5" x2="315" y2="960.5" stroke-width="2" />
<path d="M283,953 L290,953 L290,969 L283,969" stroke-width="2.2" fill="none" />
<text x="223" y="957.0" font-size="6" font-weight="bold" text-anchor="start" fill="#4c4c4c" stroke="none" textLength="34" lengthAdjust="spacingAndGlyphs" >СИСТЕМА</text>
<text x="223" y="963.5" font-size="6" font-weight="bold" text-anchor="start" fill="#4c4c4c" stroke="none" textLength="57" lengthAdjust="spacingAndGlyphs" >РАСПРЕДЕЛЕНИЯ</text>
<text x="223" y="970.0" font-size="6" font-weight="bold" text-anchor="start" fill="#4c4c4c" stroke="none" textLength="28" lengthAdjust="spacingAndGlyphs" >ПИТАНИЯ</text>
<rect x="309" y="983" width="11.5" height="21.5" stroke-width="1.8" fill="none" />
<line x1="315" y1="983" x2="315" y2="1040" stroke-width="2" />
<text x="323" y="990.0" font-size="6" font-weight="bold" text-anchor="start" fill="#4c4c4c" stroke="none" textLength="32" lengthAdjust="spacingAndGlyphs" >ПРЕДОХР.</text>
<text x="323" y="996.5" font-size="6" font-weight="bold" text-anchor="start" fill="#4c4c4c" stroke="none" textLength="34" lengthAdjust="spacingAndGlyphs" >MBR (30A)</text>
<rect x="369" y="948" width="59" height="46" stroke-width="2.2" fill="none" />
<line x1="369" y1="958" x2="428" y2="958" stroke-width="1.6" />
<text x="398.5" y="956" font-size="6.5" font-weight="bold" text-anchor="middle" fill="#151515" stroke="none" textLength="32" lengthAdjust="spacingAndGlyphs" stroke="#151515" stroke-width="0.35">CONN ID</text>
<text x="373" y="967" font-size="6" font-weight="bold" text-anchor="start" fill="#151515" stroke="none" textLength="32" lengthAdjust="spacingAndGlyphs" stroke="#151515" stroke-width="0.35">C1=68 BK</text>
<text x="373" y="975" font-size="6" font-weight="bold" text-anchor="start" fill="#151515" stroke="none" textLength="34" lengthAdjust="spacingAndGlyphs" stroke="#151515" stroke-width="0.35">C2=68 GY</text>
<text x="373" y="983" font-size="6" font-weight="bold" text-anchor="start" fill="#151515" stroke="none" textLength="34" lengthAdjust="spacingAndGlyphs" stroke="#151515" stroke-width="0.35">C3=68 BK</text>
<text x="373" y="991" font-size="6" font-weight="bold" text-anchor="start" fill="#151515" stroke="none" textLength="46" lengthAdjust="spacingAndGlyphs" stroke="#151515" stroke-width="0.35">C4=68 L-GN</text>
<text x="437.5" y="945.3" font-size="6" font-weight="bold" text-anchor="start" fill="#444" stroke="none" textLength="20" lengthAdjust="spacingAndGlyphs" >БЛОК</text>
<text x="437.5" y="952.3" font-size="6" font-weight="bold" text-anchor="start" fill="#444" stroke="none" textLength="83" lengthAdjust="spacingAndGlyphs" >ПРЕДОХРАНИТЕЛЕЙ В ПАН.</text>
<text x="437.5" y="959.3" font-size="6" font-weight="bold" text-anchor="start" fill="#444" stroke="none" textLength="40" lengthAdjust="spacingAndGlyphs" >ПАНЕЛИ ПРИБ.</text>
<line x1="315" y1="1032" x2="315" y2="1042.5" stroke-width="3" />
<polyline points="310,1042.5 315,1048.0 320,1042.5" stroke-width="1.8" fill="none" />
<line x1="315" y1="1046" x2="315" y2="1101" stroke-width="2" />
<text x="293" y="1051" font-size="6.5" font-weight="bold" text-anchor="start" fill="#2a2a2a" stroke="none" textLength="10" lengthAdjust="spacingAndGlyphs" >C2</text>
<text x="323" y="1051" font-size="6.5" font-weight="bold" text-anchor="start" fill="#2a2a2a" stroke="none" textLength="10" lengthAdjust="spacingAndGlyphs" >B7</text>
<path d="M314.5,1048 L305.5,1056 L235,1056 Q232.7,1056 232.7,1058.5 L232.7,1112" stroke-width="2.2" fill="none" />
<path d="M225.5,1120 L225.5,1112 L240,1112 L240,1120" stroke-width="2.2" fill="none" />
<text x="239" y="1083.5" font-size="6.3" font-weight="bold" text-anchor="start" fill="#333" stroke="none" textLength="18" lengthAdjust="spacingAndGlyphs" >1140</text>
<text x="239" y="1091.5" font-size="6.3" font-weight="bold" text-anchor="start" fill="#333" stroke="none" textLength="25" lengthAdjust="spacingAndGlyphs" >КС/БЕЛ</text>
<text x="239" y="1099.5" font-size="6.3" font-weight="bold" text-anchor="start" fill="#333" stroke="none" textLength="11" lengthAdjust="spacingAndGlyphs" >0.5</text>
<text x="216.7" y="1129" font-size="6" font-weight="bold" text-anchor="start" fill="#4c4c4c" stroke="none" textLength="36" lengthAdjust="spacingAndGlyphs" >СИСТЕМА</text>
<text x="216.7" y="1136" font-size="6" font-weight="bold" text-anchor="start" fill="#4c4c4c" stroke="none" textLength="65" lengthAdjust="spacingAndGlyphs" >РАСПРЕДЕЛЕНИЯ ПИТ.</text>
<text x="216.7" y="1143" font-size="6" font-weight="bold" text-anchor="start" fill="#4c4c4c" stroke="none" textLength="36" lengthAdjust="spacingAndGlyphs" >ПИТАНИЯ</text>
<text x="320" y="1070" font-size="6.3" font-weight="bold" text-anchor="start" fill="#333" stroke="none" textLength="17" lengthAdjust="spacingAndGlyphs" >1740</text>
<text x="320" y="1078" font-size="6.3" font-weight="bold" text-anchor="start" fill="#333" stroke="none" textLength="26" lengthAdjust="spacingAndGlyphs" >КС/БЕЛ</text>
<text x="320" y="1086" font-size="6.3" font-weight="bold" text-anchor="start" fill="#333" stroke="none" textLength="10" lengthAdjust="spacingAndGlyphs" >0.5</text>
<path d="M310,1108.5 Q312,1102.5 315,1102 Q318,1102.5 320,1108.5" stroke-width="1.8" fill="none" />
<text x="288" y="1103.5" font-size="6.5" font-weight="bold" text-anchor="start" fill="#2a2a2a" stroke="none" textLength="17.5" lengthAdjust="spacingAndGlyphs" >C200</text>
<text x="323" y="1103.3" font-size="6.5" font-weight="bold" text-anchor="start" fill="#2a2a2a" stroke="none" textLength="9.5" lengthAdjust="spacingAndGlyphs" >B9</text>
<line x1="315" y1="1109" x2="315" y2="1160" stroke-width="2" />
<line x1="315" y1="1109" x2="315" y2="1118" stroke-width="3" />
<text x="320" y="1130.2" font-size="6.3" font-weight="bold" text-anchor="start" fill="#333" stroke="none" textLength="17" lengthAdjust="spacingAndGlyphs" >1740</text>
<text x="320" y="1138.2" font-size="6.3" font-weight="bold" text-anchor="start" fill="#333" stroke="none" textLength="26" lengthAdjust="spacingAndGlyphs" >КС/БЕЛ</text>
<text x="320" y="1146.2" font-size="6.3" font-weight="bold" text-anchor="start" fill="#333" stroke="none" textLength="10" lengthAdjust="spacingAndGlyphs" >0.5</text>
<text x="296.5" y="1160" font-size="6.5" font-weight="bold" text-anchor="start" fill="#2a2a2a" stroke="none" textLength="9" lengthAdjust="spacingAndGlyphs" >C1</text>
<text x="324.5" y="1160.5" font-size="6.5" font-weight="bold" text-anchor="start" fill="#2a2a2a" stroke="none" >A</text>
<path d="M310,1166.5 Q312,1160.5 315,1160 Q318,1160.5 320,1166.5" stroke-width="1.8" fill="none" />
<line x1="315" y1="1166" x2="315" y2="1175" stroke-width="3" />
<line x1="326" y1="1107.4" x2="665" y2="1104.4" stroke-width="2.4" stroke-dasharray="3 4.35"/>
<line x1="322" y1="1164.3" x2="665" y2="1161.4" stroke-width="2.4" stroke-dasharray="3 4.35"/>
<rect x="658" y="919" width="23.5" height="13.5" stroke-width="3" fill="none" />
<text x="669.8" y="929" font-size="6.8" font-weight="bold" text-anchor="middle" fill="#111" stroke="none" stroke="#111" stroke-width="0.3">B+</text>
<rect x="580" y="940.6" width="259" height="88.69999999999993" stroke-width="2" fill="none" stroke-dasharray="7 6"/>
<line x1="669.5" y1="935" x2="669.5" y2="980.5" stroke-width="2" />
<circle cx="669.5" cy="958" r="1.8" fill="#1c1c1c" stroke="none"/>
<line x1="645" y1="958" x2="669.5" y2="958" stroke-width="2" />
<path d="M639,950.5 L645,950.5 L645,966.5 L639,966.5" stroke-width="2.3" fill="none" />
<text x="581" y="952" font-size="6" font-weight="bold" text-anchor="start" fill="#4c4c4c" stroke="none" textLength="36" lengthAdjust="spacingAndGlyphs" >СИСТЕМА</text>
<text x="581" y="960" font-size="6" font-weight="bold" text-anchor="start" fill="#4c4c4c" stroke="none" textLength="56" lengthAdjust="spacingAndGlyphs" >РАСПРЕДЕЛЕНИЯ</text>
<text x="581" y="968" font-size="6" font-weight="bold" text-anchor="start" fill="#4c4c4c" stroke="none" textLength="34" lengthAdjust="spacingAndGlyphs" >ПИТАНИЯ</text>
<circle cx="669.5" cy="980.5" r="2.1" fill="#1c1c1c" stroke="none"/>
<path d="M662.6,982.8 Q666.5,988 670.6,998" stroke-width="2" fill="none" />
<line x1="670.3" y1="997" x2="670.3" y2="1038" stroke-width="2.1" />
<text x="675.5" y="981.0" font-size="6" font-weight="bold" text-anchor="start" fill="#4c4c4c" stroke="none" textLength="32" lengthAdjust="spacingAndGlyphs" >ПРЕДОХР.</text>
<text x="675.5" y="989.2" font-size="6" font-weight="bold" text-anchor="start" fill="#4c4c4c" stroke="none" textLength="28" lengthAdjust="spacingAndGlyphs" >СИДЕНИЯ</text>
<text x="675.5" y="997.4" font-size="6" font-weight="bold" text-anchor="start" fill="#4c4c4c" stroke="none" textLength="42" lengthAdjust="spacingAndGlyphs" >MEMR 2 (25A)</text>
<rect x="727" y="945" width="106" height="78" stroke-width="2.4" fill="none" />
<line x1="727" y1="955" x2="833" y2="955" stroke-width="1.6" />
<text x="780" y="953.3" font-size="6.5" font-weight="bold" text-anchor="middle" fill="#151515" stroke="none" textLength="34" lengthAdjust="spacingAndGlyphs" stroke="#151515" stroke-width="0.35">CONN ID</text>
<text x="733" y="964.2" font-size="6" font-weight="bold" text-anchor="start" fill="#151515" stroke="none" textLength="36" lengthAdjust="spacingAndGlyphs" stroke="#151515" stroke-width="0.35">C1=68 BK</text>
<text x="733" y="971.95" font-size="6" font-weight="bold" text-anchor="start" fill="#151515" stroke="none" textLength="36" lengthAdjust="spacingAndGlyphs" stroke="#151515" stroke-width="0.35">C2=68 BK</text>
<text x="733" y="979.7" font-size="6" font-weight="bold" text-anchor="start" fill="#151515" stroke="none" textLength="36" lengthAdjust="spacingAndGlyphs" stroke="#151515" stroke-width="0.35">C3=68 BK</text>
<text x="733" y="987.45" font-size="6" font-weight="bold" text-anchor="start" fill="#151515" stroke="none" textLength="36" lengthAdjust="spacingAndGlyphs" stroke="#151515" stroke-width="0.35">C4=68 BK</text>
<text x="733" y="995.2" font-size="6" font-weight="bold" text-anchor="start" fill="#151515" stroke="none" textLength="36" lengthAdjust="spacingAndGlyphs" stroke="#151515" stroke-width="0.35">C5=68 BK</text>
<text x="733" y="1002.95" font-size="6" font-weight="bold" text-anchor="start" fill="#151515" stroke="none" textLength="20" lengthAdjust="spacingAndGlyphs" stroke="#151515" stroke-width="0.35">C6=—</text>
<text x="733" y="1010.7" font-size="6" font-weight="bold" text-anchor="start" fill="#151515" stroke="none" textLength="36" lengthAdjust="spacingAndGlyphs" stroke="#151515" stroke-width="0.35">C7=68 BK</text>
<text x="733" y="1018.45" font-size="6" font-weight="bold" text-anchor="start" fill="#151515" stroke="none" textLength="36" lengthAdjust="spacingAndGlyphs" stroke="#151515" stroke-width="0.35">C8=68 BK</text>
<text x="782" y="964.2" font-size="6" font-weight="bold" text-anchor="start" fill="#151515" stroke="none" textLength="32" lengthAdjust="spacingAndGlyphs" stroke="#151515" stroke-width="0.35">C9=68 BK</text>
<text x="782" y="971.95" font-size="6" font-weight="bold" text-anchor="start" fill="#151515" stroke="none" textLength="34" lengthAdjust="spacingAndGlyphs" stroke="#151515" stroke-width="0.35">P1=4 GY</text>
<text x="782" y="979.7" font-size="6" font-weight="bold" text-anchor="start" fill="#151515" stroke="none" textLength="44" lengthAdjust="spacingAndGlyphs" stroke="#151515" stroke-width="0.35">P2=68 L-GY</text>
<text x="782" y="987.45" font-size="6" font-weight="bold" text-anchor="start" fill="#151515" stroke="none" textLength="36" lengthAdjust="spacingAndGlyphs" stroke="#151515" stroke-width="0.35">P3=68 BK</text>
<text x="782" y="995.2" font-size="6" font-weight="bold" text-anchor="start" fill="#151515" stroke="none" textLength="44" lengthAdjust="spacingAndGlyphs" stroke="#151515" stroke-width="0.35">P4=68 L-GN</text>
<text x="782" y="1002.95" font-size="6" font-weight="bold" text-anchor="start" fill="#151515" stroke="none" textLength="34" lengthAdjust="spacingAndGlyphs" stroke="#151515" stroke-width="0.35">P5=68 BK</text>
<text x="782" y="1010.7" font-size="6" font-weight="bold" text-anchor="start" fill="#151515" stroke="none" textLength="26" lengthAdjust="spacingAndGlyphs" stroke="#151515" stroke-width="0.35">P6=—</text>
<text x="842" y="945.0" font-size="6" font-weight="bold" text-anchor="start" fill="#4c4c4c" stroke="none" textLength="90" lengthAdjust="spacingAndGlyphs" >МОНТАЖНЫЙ БЛОК ПОД</text>
<text x="842" y="951.5" font-size="6" font-weight="bold" text-anchor="start" fill="#4c4c4c" stroke="none" textLength="82" lengthAdjust="spacingAndGlyphs" >КАПОТОМ, БЛОК ПРЕДОХР.</text>
<text x="842" y="958.0" font-size="6" font-weight="bold" text-anchor="start" fill="#4c4c4c" stroke="none" textLength="62" lengthAdjust="spacingAndGlyphs" >ПРЕДОХРАНИТЕЛЕЙ</text>
<line x1="670" y1="1029" x2="670" y2="1040" stroke-width="3" />
<polyline points="665,1039.5 670,1045.0 675,1039.5" stroke-width="1.8" fill="none" />
<line x1="670" y1="1045" x2="670" y2="1101" stroke-width="2" />
<text x="646" y="1048.5" font-size="6.5" font-weight="bold" text-anchor="start" fill="#555" stroke="none" textLength="14" lengthAdjust="spacingAndGlyphs" >C1E</text>
<text x="680" y="1048.5" font-size="6.5" font-weight="bold" text-anchor="start" fill="#555" stroke="none" >1</text>
<text x="676" y="1066.5" font-size="6.3" font-weight="bold" text-anchor="start" fill="#333" stroke="none" textLength="15.5" lengthAdjust="spacingAndGlyphs" >5040</text>
<text x="676" y="1074.8" font-size="6.3" font-weight="bold" text-anchor="start" fill="#333" stroke="none" textLength="26" lengthAdjust="spacingAndGlyphs" >КС/БЕЛ</text>
<text x="676" y="1083.1" font-size="6.3" font-weight="bold" text-anchor="start" fill="#333" stroke="none" textLength="4" lengthAdjust="spacingAndGlyphs" >2</text>
<path d="M665,1108.5 Q667,1102.5 670,1102 Q673,1102.5 675,1108.5" stroke-width="1.8" fill="none" />
<text x="680" y="1101" font-size="6.5" font-weight="bold" text-anchor="start" fill="#2a2a2a" stroke="none" textLength="9" lengthAdjust="spacingAndGlyphs" >A7</text>
<line x1="670" y1="1108" x2="670" y2="1130" stroke-width="3" />
<line x1="670" y1="1130" x2="670" y2="1157" stroke-width="1.6" />
<text x="676" y="1128.0" font-size="6.3" font-weight="bold" text-anchor="start" fill="#333" stroke="none" textLength="15.5" lengthAdjust="spacingAndGlyphs" >5040</text>
<text x="676" y="1135.8" font-size="6.3" font-weight="bold" text-anchor="start" fill="#333" stroke="none" textLength="26" lengthAdjust="spacingAndGlyphs" >КС/БЕЛ</text>
<text x="676" y="1143.6" font-size="6.3" font-weight="bold" text-anchor="start" fill="#333" stroke="none" textLength="4" lengthAdjust="spacingAndGlyphs" >2</text>
<text x="680" y="1158.3" font-size="6.5" font-weight="bold" text-anchor="start" fill="#2a2a2a" stroke="none" >B</text>
<path d="M665,1163.5 Q667,1157.5 670,1157 Q673,1157.5 675,1163.5" stroke-width="1.8" fill="none" />
<line x1="670" y1="1163" x2="670" y2="1172" stroke-width="3" />
<polygon points="223.5,1174.2 832,1171.6 832,1263 223.5,1265.6" fill="none" stroke-width="1.9" stroke="#2c2c2c" stroke-dasharray="7 6"/>
<text x="292.5" y="1183" font-size="6" font-weight="bold" text-anchor="start" fill="#4c4c4c" stroke="none" textLength="52" lengthAdjust="spacingAndGlyphs" >НАПРЯЖЕНИЕ АКБ</text>
<text x="292.5" y="1190" font-size="6" font-weight="bold" text-anchor="start" fill="#4c4c4c" stroke="none" textLength="34" lengthAdjust="spacingAndGlyphs" >ПИТАНИЕ</text>
<text x="647" y="1181" font-size="6" font-weight="bold" text-anchor="start" fill="#4c4c4c" stroke="none" textLength="52" lengthAdjust="spacingAndGlyphs" >НАПРЯЖЕНИЕ АКБ</text>
<text x="647" y="1188" font-size="6" font-weight="bold" text-anchor="start" fill="#4c4c4c" stroke="none" textLength="38" lengthAdjust="spacingAndGlyphs" >ПИТАНИЕ</text>
<rect x="768.5" y="1178.3" width="55.0" height="72.70000000000005" stroke-width="2.2" fill="none" />
<line x1="768.5" y1="1189" x2="823.5" y2="1189" stroke-width="1.6" />
<text x="796" y="1187" font-size="6.5" font-weight="bold" text-anchor="middle" fill="#151515" stroke="none" textLength="32" lengthAdjust="spacingAndGlyphs" stroke="#151515" stroke-width="0.35">CONN ID</text>
<text x="776" y="1197.2" font-size="6" font-weight="bold" text-anchor="start" fill="#151515" stroke="none" textLength="36" lengthAdjust="spacingAndGlyphs" stroke="#151515" stroke-width="0.35">C1=16 BK</text>
<text x="776" y="1205.2" font-size="6" font-weight="bold" text-anchor="start" fill="#151515" stroke="none" textLength="36" lengthAdjust="spacingAndGlyphs" stroke="#151515" stroke-width="0.35">C2=16 BK</text>
<text x="776" y="1213.2" font-size="6" font-weight="bold" text-anchor="start" fill="#151515" stroke="none" textLength="36" lengthAdjust="spacingAndGlyphs" stroke="#151515" stroke-width="0.35">C3=16 BK</text>
<text x="776" y="1221.2" font-size="6" font-weight="bold" text-anchor="start" fill="#151515" stroke="none" textLength="36" lengthAdjust="spacingAndGlyphs" stroke="#151515" stroke-width="0.35">C4=16 BK</text>
<text x="776" y="1229.2" font-size="6" font-weight="bold" text-anchor="start" fill="#151515" stroke="none" textLength="36" lengthAdjust="spacingAndGlyphs" stroke="#151515" stroke-width="0.35">C5=16 BK</text>
<text x="776" y="1237.2" font-size="6" font-weight="bold" text-anchor="start" fill="#151515" stroke="none" textLength="36" lengthAdjust="spacingAndGlyphs" stroke="#151515" stroke-width="0.35">C6=16 BK</text>
<text x="776" y="1245.2" font-size="6" font-weight="bold" text-anchor="start" fill="#151515" stroke="none" textLength="36" lengthAdjust="spacingAndGlyphs" stroke="#151515" stroke-width="0.35">C7=16 BK</text>
<text x="835" y="1176.0" font-size="6" font-weight="bold" text-anchor="start" fill="#4c4c4c" stroke="none" textLength="135" lengthAdjust="spacingAndGlyphs" >БЛОК ПАМЯТИ ПОЛОЖЕНИЯ СИДЕНЬЯ И</text>
<text x="835" y="1183.5" font-size="6" font-weight="bold" text-anchor="start" fill="#4c4c4c" stroke="none" textLength="119" lengthAdjust="spacingAndGlyphs" >ЗЕРКАЛ ЗАДНЕГО ВИДА ВОДИТЕЛЯ</text>
<text x="244" y="1262.3" font-size="6" font-weight="bold" text-anchor="start" fill="#4c4c4c" stroke="none" textLength="27" lengthAdjust="spacingAndGlyphs" >МАССА</text>
<text x="313" y="1262.3" font-size="6" font-weight="bold" text-anchor="start" fill="#4c4c4c" stroke="none" textLength="26" lengthAdjust="spacingAndGlyphs" >МАССА</text>
<text x="388" y="1253" font-size="6" font-weight="bold" text-anchor="start" fill="#4c4c4c" stroke="none" textLength="56" lengthAdjust="spacingAndGlyphs" >ШИНА ПОСЛЕДОВАТ.</text>
<text x="388" y="1260" font-size="6" font-weight="bold" text-anchor="start" fill="#4c4c4c" stroke="none" textLength="70" lengthAdjust="spacingAndGlyphs" >ПЕРЕДАЧИ ДАННЫХ</text>
<line x1="258.8" y1="1265.5" x2="258.8" y2="1275.5" stroke-width="3" />
<polyline points="253.8,1276 258.8,1281.5 263.8,1276" stroke-width="1.8" fill="none" />
<line x1="328" y1="1265.5" x2="328" y2="1275.5" stroke-width="3" />
<polyline points="323,1276 328,1281.5 333,1276" stroke-width="1.8" fill="none" />
<line x1="418.3" y1="1265.5" x2="418.3" y2="1275.5" stroke-width="3" />
<polyline points="413.3,1276 418.3,1281.5 423.3,1276" stroke-width="1.8" fill="none" />
<text x="241.5" y="1286" font-size="6.5" font-weight="bold" text-anchor="start" fill="#2a2a2a" stroke="none" textLength="9" lengthAdjust="spacingAndGlyphs" >C3</text>
<text x="267.5" y="1286" font-size="6.5" font-weight="bold" text-anchor="start" fill="#2a2a2a" stroke="none" >1</text>
<text x="336.5" y="1286" font-size="6.5" font-weight="bold" text-anchor="start" fill="#2a2a2a" stroke="none" >8</text>
<text x="401" y="1286" font-size="6.5" font-weight="bold" text-anchor="start" fill="#2a2a2a" stroke="none" textLength="9" lengthAdjust="spacingAndGlyphs" >C1</text>
<text x="427" y="1286" font-size="6.5" font-weight="bold" text-anchor="start" fill="#2a2a2a" stroke="none" textLength="8" lengthAdjust="spacingAndGlyphs" >16</text>
<line x1="266.5" y1="1274.6" x2="322" y2="1274.6" stroke-width="2.4" stroke-dasharray="3 4.35"/>
<line x1="258.8" y1="1281" x2="259.5" y2="1400" stroke-width="2.1" />
<polyline points="327.8,1281 327.8,1327.6 258.8,1328.4" stroke-width="2.1" fill="none" />
<circle cx="259" cy="1328.4" r="3.1" fill="#1c1c1c" stroke="none"/>
<text x="234" y="1331.5" font-size="6.5" font-weight="bold" text-anchor="start" fill="#2a2a2a" stroke="none" textLength="17" lengthAdjust="spacingAndGlyphs" >S308</text>
<text x="264.5" y="1301.0" font-size="6.3" font-weight="bold" text-anchor="start" fill="#333" stroke="none" textLength="18" lengthAdjust="spacingAndGlyphs" >1150</text>
<text x="264.5" y="1309.2" font-size="6.3" font-weight="bold" text-anchor="start" fill="#333" stroke="none" textLength="10" lengthAdjust="spacingAndGlyphs" >ЧЕР</text>
<text x="264.5" y="1317.4" font-size="6.3" font-weight="bold" text-anchor="start" fill="#333" stroke="none" textLength="4" lengthAdjust="spacingAndGlyphs" >2</text>
<text x="331.8" y="1301.0" font-size="6.3" font-weight="bold" text-anchor="start" fill="#333" stroke="none" textLength="19" lengthAdjust="spacingAndGlyphs" >1150</text>
<text x="331.8" y="1309.2" font-size="6.3" font-weight="bold" text-anchor="start" fill="#333" stroke="none" textLength="10" lengthAdjust="spacingAndGlyphs" >ЧЕР</text>
<text x="331.8" y="1317.4" font-size="6.3" font-weight="bold" text-anchor="start" fill="#333" stroke="none" textLength="4" lengthAdjust="spacingAndGlyphs" >2</text>
<text x="264.5" y="1356.5" font-size="6.3" font-weight="bold" text-anchor="start" fill="#333" stroke="none" textLength="16" lengthAdjust="spacingAndGlyphs" >1150</text>
<text x="264.5" y="1364.3" font-size="6.3" font-weight="bold" text-anchor="start" fill="#333" stroke="none" textLength="10" lengthAdjust="spacingAndGlyphs" >ЧЕР</text>
<text x="264.5" y="1372.1" font-size="6.3" font-weight="bold" text-anchor="start" fill="#333" stroke="none" textLength="4" lengthAdjust="spacingAndGlyphs" >2</text>
<line x1="259.6" y1="1407" x2="260" y2="1511" stroke-width="2.2" stroke-dasharray="12.2 6.1"/>
<polyline points="245,1516 245,1502 272,1502 272,1516" stroke-width="2" fill="none" />
<line x1="250.5" y1="1507" x2="270" y2="1507" stroke-width="1.6" />
<line x1="253.5" y1="1507" x2="250" y2="1516" stroke-width="1.7" />
<line x1="261.0" y1="1507" x2="257.5" y2="1516" stroke-width="1.7" />
<line x1="268.5" y1="1507" x2="265" y2="1516" stroke-width="1.7" />
<text x="276" y="1515.5" font-size="6.5" font-weight="bold" text-anchor="start" fill="#2a2a2a" stroke="none" textLength="18" lengthAdjust="spacingAndGlyphs" >G305</text>
<line x1="418.3" y1="1281" x2="418.3" y2="1331" stroke-width="2" />
<text x="423" y="1300.5" font-size="6.3" font-weight="bold" text-anchor="start" fill="#333" stroke="none" textLength="19" lengthAdjust="spacingAndGlyphs" >5060</text>
<text x="423" y="1308.6" font-size="6.3" font-weight="bold" text-anchor="start" fill="#333" stroke="none" textLength="23" lengthAdjust="spacingAndGlyphs" >Т-ЗЕЛ</text>
<text x="423" y="1316.7" font-size="6.3" font-weight="bold" text-anchor="start" fill="#333" stroke="none" textLength="15" lengthAdjust="spacingAndGlyphs" >0.35</text>
<path d="M411.5,1338.5 L411.5,1331.5 L427,1331.5 L427,1338.5" stroke-width="2.3" fill="none" />
<text x="377" y="1350" font-size="7" font-weight="normal" text-anchor="start" fill="#444" stroke="none" textLength="96.5" lengthAdjust="spacingAndGlyphs" >ШИНА ПЕРЕДАЧИ ДАННЫХ</text>
<path d="M411.5,1357.5 L411.5,1364.5 L427,1364.5 L427,1357.5" stroke-width="2.3" fill="none" />
<line x1="418.8" y1="1365.5" x2="418.8" y2="1411" stroke-width="1.3" stroke="#666"/>
<text x="424" y="1381.5" font-size="6.3" font-weight="bold" text-anchor="start" fill="#333" stroke="none" textLength="17" lengthAdjust="spacingAndGlyphs" >5060</text>
<text x="424" y="1389.5" font-size="6.3" font-weight="bold" text-anchor="start" fill="#333" stroke="none" textLength="22" lengthAdjust="spacingAndGlyphs" >Т-ЗЕЛ</text>
<text x="424" y="1397.5" font-size="6.3" font-weight="bold" text-anchor="start" fill="#333" stroke="none" textLength="14" lengthAdjust="spacingAndGlyphs" >0.35</text>
<text x="400" y="1413.8" font-size="6.5" font-weight="bold" text-anchor="start" fill="#2a2a2a" stroke="none" textLength="10" lengthAdjust="spacingAndGlyphs" >C2</text>
<text x="428" y="1413.8" font-size="6.5" font-weight="bold" text-anchor="start" fill="#2a2a2a" stroke="none" >5</text>
<path d="M413.8,1419.5 Q415.8,1413.5 418.8,1413 Q421.8,1413.5 423.8,1419.5" stroke-width="1.8" fill="none" />
<line x1="418.8" y1="1419" x2="418.8" y2="1427" stroke-width="3" />
<rect x="523" y="1268.5" width="224" height="91.0" stroke-width="2" fill="none" stroke-dasharray="7 6"/>
<text x="750.5" y="1274.5" font-size="6" font-weight="bold" text-anchor="start" fill="#4c4c4c" stroke="none" textLength="200" lengthAdjust="spacingAndGlyphs" >ПЕРЕКЛЮЧАТЕЛЬ ИНДИВИДУАЛЬНЫХ НАСТРОЕК ПОЛОЖ. СИДЕНЬЯ</text>
<text x="750.5" y="1281.0" font-size="6" font-weight="bold" text-anchor="start" fill="#4c4c4c" stroke="none" textLength="225" lengthAdjust="spacingAndGlyphs" >ВОДИТЕЛЯ / ЗЕРКАЛ ЗАДНЕГО ВИДА / ПОЛОЖЕНИЯ ПЕДАЛЕЙ (ЕСЛИ УСТ.)</text>
<text x="750.5" y="1287.5" font-size="6" font-weight="bold" text-anchor="start" fill="#4c4c4c" stroke="none" textLength="60" lengthAdjust="spacingAndGlyphs" >В ЛЕВОЙ ПЕРЕДН. ДВ.</text>
<line x1="545.5" y1="1287" x2="545.5" y2="1312" stroke-width="1.6" />
<rect x="541.5" y="1312" width="8.0" height="16" stroke-width="1.8" fill="none" />
<line x1="545.3" y1="1328" x2="545.3" y2="1410" stroke-width="2" />
<text x="553" y="1323" font-size="6" font-weight="bold" text-anchor="start" fill="#2a2a2a" stroke="none" textLength="32" lengthAdjust="spacingAndGlyphs" >2000 ОМ</text>
<line x1="568" y1="1286" x2="614.5" y2="1286" stroke-width="1.5" />
<rect x="614.5" y="1282.5" width="15.5" height="7.0" stroke-width="1.6" fill="none" />
<line x1="630" y1="1286" x2="662" y2="1286" stroke-width="1.5" />
<rect x="662" y="1282.5" width="15" height="7.0" stroke-width="1.6" fill="none" />
<line x1="677" y1="1286" x2="695.5" y2="1286" stroke-width="2" />
<text x="612" y="1298" font-size="6" font-weight="bold" text-anchor="start" fill="#2a2a2a" stroke="none" textLength="24" lengthAdjust="spacingAndGlyphs" >2 КОМ</text>
<text x="660" y="1298" font-size="6" font-weight="bold" text-anchor="start" fill="#2a2a2a" stroke="none" textLength="28" lengthAdjust="spacingAndGlyphs" >4990 ОМ</text>
<path d="M600,1285.5 L600,1308 Q599.5,1316 593,1326" stroke-width="1.9" fill="none" />
<line x1="600" y1="1328" x2="600" y2="1347" stroke-width="1.9" />
<path d="M647,1285.5 L647,1308 Q646.5,1316 640,1326" stroke-width="1.9" fill="none" />
<line x1="647" y1="1328" x2="647" y2="1347" stroke-width="1.9" />
<path d="M695.5,1285.5 L695.5,1308 Q695.0,1316 688.5,1326" stroke-width="1.9" fill="none" />
<line x1="695.5" y1="1328" x2="695.5" y2="1347" stroke-width="1.9" />
<line x1="600" y1="1347" x2="695.5" y2="1347" stroke-width="2" />
<line x1="647.3" y1="1347" x2="647.3" y2="1410" stroke-width="2" />
<text x="606.5" y="1325.5" font-size="17" font-weight="bold" text-anchor="start" fill="#222" stroke="none" >1</text>
<text x="656" y="1325.5" font-size="17" font-weight="bold" text-anchor="start" fill="#222" stroke="none" >2</text>
<rect x="706" y="1314.5" width="12" height="11.5" rx="1.5" fill="none" stroke-width="2.4"/>
<ellipse cx="726.5" cy="1320.3" rx="6" ry="5.6" fill="none" stroke-width="2.4"/>
<path d="M712.5,1314 Q713.5,1308.5 718,1309.5 Q721,1310.5 720,1314.5" stroke-width="2" fill="none" />
<text x="551" y="1379.0" font-size="6.3" font-weight="bold" text-anchor="start" fill="#333" stroke="none" textLength="16" lengthAdjust="spacingAndGlyphs" >ОРН</text>
<text x="551" y="1387.2" font-size="6.3" font-weight="bold" text-anchor="start" fill="#333" stroke="none" textLength="23" lengthAdjust="spacingAndGlyphs" >С/БЕЛ</text>
<text x="551" y="1395.4" font-size="6.3" font-weight="bold" text-anchor="start" fill="#333" stroke="none" textLength="15" lengthAdjust="spacingAndGlyphs" >0.35</text>
<text x="652.5" y="1379.0" font-size="6.3" font-weight="bold" text-anchor="start" fill="#333" stroke="none" textLength="10" lengthAdjust="spacingAndGlyphs" >СН</text>
<text x="652.5" y="1387.2" font-size="6.3" font-weight="bold" text-anchor="start" fill="#333" stroke="none" textLength="11" lengthAdjust="spacingAndGlyphs" >ОР</text>
<text x="652.5" y="1395.4" font-size="6.3" font-weight="bold" text-anchor="start" fill="#333" stroke="none" textLength="15" lengthAdjust="spacingAndGlyphs" >0.35</text>
<text x="528" y="1412.5" font-size="6.5" font-weight="bold" text-anchor="start" fill="#2a2a2a" stroke="none" textLength="8.5" lengthAdjust="spacingAndGlyphs" >C4</text>
<text x="554" y="1412.5" font-size="6.5" font-weight="bold" text-anchor="start" fill="#2a2a2a" stroke="none" textLength="8.5" lengthAdjust="spacingAndGlyphs" >14</text>
<text x="656.5" y="1412.5" font-size="6.5" font-weight="bold" text-anchor="start" fill="#2a2a2a" stroke="none" >4</text>
<path d="M540.3,1416.5 Q542.3,1410.5 545.3,1410 Q548.3,1410.5 550.3,1416.5" stroke-width="1.8" fill="none" />
<path d="M642.3,1416.5 Q644.3,1410.5 647.3,1410 Q650.3,1410.5 652.3,1416.5" stroke-width="1.8" fill="none" />
<line x1="545.3" y1="1416" x2="545.3" y2="1427" stroke-width="3" />
<line x1="556" y1="1416.7" x2="640" y2="1416.7" stroke-width="2.4" stroke-dasharray="3 4.35"/>
<rect x="397.5" y="1426" width="380.0" height="88" stroke-width="2" fill="none" stroke-dasharray="7 6"/>
<text x="397" y="1435.0" font-size="6" font-weight="bold" text-anchor="start" fill="#4c4c4c" stroke="none" textLength="54" lengthAdjust="spacingAndGlyphs" >ШИНА ПОСЛЕДОВАТ.</text>
<text x="397" y="1442.5" font-size="6" font-weight="bold" text-anchor="start" fill="#4c4c4c" stroke="none" textLength="74" lengthAdjust="spacingAndGlyphs" >ПЕРЕДАЧИ ДАННЫХ</text>
<text x="521" y="1434.5" font-size="6" font-weight="bold" text-anchor="start" fill="#555" stroke="none" textLength="46" lengthAdjust="spacingAndGlyphs" >СИГНАЛ ИНД.</text>
<line x1="647.4" y1="1417" x2="647.4" y2="1468.3" stroke-width="2.6" />
<polyline points="640,1468.3 661.8,1468.3 661.8,1455.5" stroke-width="2.1" fill="none" />
<path d="M635.5,1468.3 L643,1464.6 L643,1472 Z" fill="#1c1c1c" stroke="none"/>
<rect x="658.5" y="1439.5" width="6.6" height="16" rx="1.5" fill="none" stroke-width="1.6"/>
<line x1="661.8" y1="1432.5" x2="661.8" y2="1439.5" stroke-width="1.6" />
<line x1="656" y1="1432.8" x2="667.5" y2="1432.8" stroke-width="1.7" />
<text x="562" y="1449" font-size="6" font-weight="bold" text-anchor="start" fill="#555" stroke="none" textLength="63" lengthAdjust="spacingAndGlyphs" >ПЕРЕКЛЮЧАТЕЛЬ ИНД.</text>
<text x="562" y="1456.6" font-size="6" font-weight="bold" text-anchor="start" fill="#2a2a2a" stroke="none" textLength="70" lengthAdjust="spacingAndGlyphs" >ИНДИВИДУАЛЬНЫХ НАСТР.</text>
<text x="562" y="1463" font-size="6" font-weight="bold" text-anchor="start" fill="#2a2a2a" stroke="none" textLength="75" lengthAdjust="spacingAndGlyphs" >ПОЛОЖ. СИД. ИНД. НАСТР.</text>
<text x="562" y="1471" font-size="6" font-weight="bold" text-anchor="start" fill="#2a2a2a" stroke="none" textLength="28" lengthAdjust="spacingAndGlyphs" >СИГНАЛ</text>
<rect x="715" y="1431.3" width="53.5" height="72.20000000000005" stroke-width="2.2" fill="none" />
<line x1="715" y1="1442.5" x2="768.5" y2="1442.5" stroke-width="1.6" />
<text x="742" y="1440.3" font-size="6.5" font-weight="bold" text-anchor="middle" fill="#151515" stroke="none" textLength="32" lengthAdjust="spacingAndGlyphs" stroke="#151515" stroke-width="0.35">CONN ID</text>
<text x="720.5" y="1452.0" font-size="6" font-weight="bold" text-anchor="start" fill="#151515" stroke="none" textLength="30" lengthAdjust="spacingAndGlyphs" stroke="#151515" stroke-width="0.35">C1=8 BU</text>
<text x="720.5" y="1459.95" font-size="6" font-weight="bold" text-anchor="start" fill="#151515" stroke="none" textLength="38" lengthAdjust="spacingAndGlyphs" stroke="#151515" stroke-width="0.35">C2=16 BK</text>
<text x="720.5" y="1467.9" font-size="6" font-weight="bold" text-anchor="start" fill="#151515" stroke="none" textLength="38" lengthAdjust="spacingAndGlyphs" stroke="#151515" stroke-width="0.35">C3=16 BK</text>
<text x="720.5" y="1475.85" font-size="6" font-weight="bold" text-anchor="start" fill="#151515" stroke="none" textLength="38" lengthAdjust="spacingAndGlyphs" stroke="#151515" stroke-width="0.35">C4=16 BK</text>
<text x="720.5" y="1483.8" font-size="6" font-weight="bold" text-anchor="start" fill="#151515" stroke="none" textLength="38" lengthAdjust="spacingAndGlyphs" stroke="#151515" stroke-width="0.35">C5=16 BK</text>
<text x="720.5" y="1491.75" font-size="6" font-weight="bold" text-anchor="start" fill="#151515" stroke="none" textLength="38" lengthAdjust="spacingAndGlyphs" stroke="#151515" stroke-width="0.35">C6=16 BK</text>
<text x="720.5" y="1499.7" font-size="6" font-weight="bold" text-anchor="start" fill="#151515" stroke="none" textLength="38" lengthAdjust="spacingAndGlyphs" stroke="#151515" stroke-width="0.35">C7=16 BK</text>
<text x="783" y="1429.3" font-size="6" font-weight="bold" text-anchor="start" fill="#4c4c4c" stroke="none" textLength="16" lengthAdjust="spacingAndGlyphs" >БЛОК</text>
<text x="783" y="1435.8" font-size="6" font-weight="bold" text-anchor="start" fill="#4c4c4c" stroke="none" textLength="70" lengthAdjust="spacingAndGlyphs" >ПЕРЕКЛЮЧАТЕЛЕЙ В ДВ.</text>
<text x="783" y="1442.3" font-size="6" font-weight="bold" text-anchor="start" fill="#4c4c4c" stroke="none" textLength="72" lengthAdjust="spacingAndGlyphs" >В ДВЕРИ ВОДИТЕЛЯ ЛЕВ.</text>
<rect x="1069.3" y="922" width="28.40000000000009" height="24.700000000000045" stroke-width="2.4" fill="none" />
<line x1="1075.3" y1="927" x2="1092.2" y2="942.2" stroke-width="1.8" stroke-dasharray="2.6 2"/>
<rect x="1069.3" y="958.7" width="28.40000000000009" height="25.299999999999955" stroke-width="2.4" fill="none" />
<line x1="1072.8" y1="962.2" x2="1093.7" y2="981.0" stroke-width="2" stroke-dasharray="3 2"/>
<path d="M1082.5,999.5 L1086.0,995.3 L1091.5,998.5 L1093.5,1003.5 L1100.0,1008.0 L1094.5,1012.0 L1087.5,1013.0 L1082.0,1015.0" stroke-width="2.5" fill="none" />
<line x1="1071.0" y1="1006.0" x2="1088.5" y2="1006.0" stroke-width="4.6" />
<line x1="1074.5" y1="1020.3" x2="1092.5" y2="1019.1" stroke-width="3.8" />
<path d="M1072.0,1022.0 L1080.5,1015.0 L1079.0,1025.0 Z" fill="#1c1c1c" stroke="none"/>
<rect x="1069.5" y="1033.6" width="28.59999999999991" height="25.40000000000009" stroke-width="2.4" fill="none" />
<line x1="1076.3" y1="1046.3" x2="1087.8" y2="1046.3" stroke-width="4" />
<path d="M1085.8,1041.3 L1092.8,1046.3 L1085.8,1051.3 Z" fill="#1c1c1c" stroke="none"/>
<rect x="1069.5" y="1071.7" width="28.59999999999991" height="25.299999999999955" stroke-width="2.4" fill="none" />
<line x1="1080.8" y1="1084.3500000000001" x2="1091.8" y2="1084.3500000000001" stroke-width="4" />
<path d="M1082.3,1079.3500000000001 L1075.3,1084.3500000000001 L1082.3,1089.3500000000001 Z" fill="#1c1c1c" stroke="none"/>
<text x="552" y="1574.8" font-size="18" font-weight="bold" text-anchor="start" fill="#111" stroke="none" textLength="97" lengthAdjust="spacingAndGlyphs" stroke="#111" stroke-width="0.3">Схема 102.</text>
</g></svg></body></html>
